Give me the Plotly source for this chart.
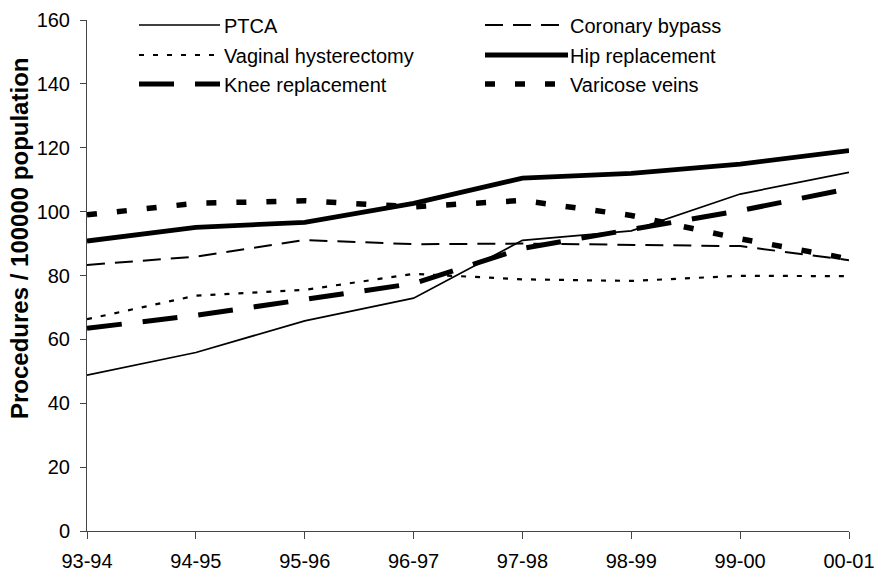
import plotly.graph_objects as go

categories = ["93-94", "94-95", "95-96", "96-97", "97-98", "98-99", "99-00", "00-01"]
series_names = ["PTCA", "Coronary bypass", "Vaginal hysterectomy",
                "Hip replacement", "Knee replacement", "Varicose veins"]
ptca = [48.8, 55.9, 65.8, 72.9, 91.0, 94.0, 105.5, 112.3]
coronary = [83.3, 85.9, 91.1, 89.8, 90.0, 89.5, 89.2, 84.8]
vaginal = [66.3, 73.7, 75.5, 80.5, 78.8, 78.3, 79.9, 79.8]
hip = [90.8, 95.1, 96.6, 102.6, 110.5, 112.0, 114.9, 119.1]
knee = [63.5, 67.5, 72.5, 77.5, 88.5, 94.5, 100.3, 107.2]
varicose = [99.0, 102.6, 103.4, 101.5, 103.5, 98.8, 91.5, 85.2]
y_ticks = [0, 20, 40, 60, 80, 100, 120, 140, 160]

values = [ptca, coronary, vaginal, hip, knee, varicose]
styles = [
    dict(width=1.7, dash="solid"),
    dict(width=2, dash="18px,10px"),
    dict(width=2.2, dash="5px,9px"),
    dict(width=4.8, dash="solid"),
    dict(width=5, dash="35px,21px"),
    dict(width=5.5, dash="10px,20px"),
]

W, H = 877, 575
# plot area in page pixels: x 87..849, y 20..531
L, R, T, B = 87, W - 849, 20, H - 531
pw, ph = W - L - R, H - T - B


def px(x):
    return (x - L) / pw


def py(y):
    return (H - B - y) / ph


fig = go.Figure()
for name, vals, st in zip(series_names, values, styles):
    fig.add_trace(go.Scatter(
        x=categories, y=vals, mode="lines", name=name,
        line=dict(color="black", width=st["width"], dash=st["dash"]),
        showlegend=False,
    ))

# manual legend (2 columns x 3 rows)
key_x = [(139, 220), (485, 568)]
text_x = [222, 568]
row_y = [25, 55, 84]
shapes = []
annotations = []
for i, (name, st) in enumerate(zip(series_names, styles)):
    col = i % 2
    row = i // 2
    x0, x1 = key_x[col]
    shapes.append(dict(
        type="line", xref="paper", yref="paper",
        x0=px(x0), x1=px(x1), y0=py(row_y[row]), y1=py(row_y[row]),
        line=dict(color="black", width=st["width"], dash=st["dash"]),
    ))
    annotations.append(dict(
        text=name, xref="paper", yref="paper",
        x=px(text_x[col]), y=py(row_y[row] + 1), xanchor="left", yanchor="middle",
        showarrow=False, font=dict(size=20, color="black"),
    ))

annotations.append(dict(
    text="<b>Procedures / 100000 population</b>", xref="paper", yref="paper",
    x=px(19), y=py(239), xanchor="center", yanchor="middle", textangle=-90,
    showarrow=False, font=dict(size=24, color="black"),
))

fig.update_layout(
    width=W, height=H,
    margin=dict(l=L, r=R, t=T, b=B, pad=0, autoexpand=False),
    paper_bgcolor="white", plot_bgcolor="white",
    font=dict(family="Liberation Sans, Arial, sans-serif", size=20, color="black"),
    shapes=shapes, annotations=annotations,
    hovermode=False,
    xaxis=dict(
        type="category", range=[0, len(categories) - 1],
        showline=True, linecolor="#444", linewidth=1,
        ticks="outside", ticklen=7, tickcolor="#444", tickwidth=1,
        showgrid=False, zeroline=False, automargin=False,
        tickfont=dict(size=20, color="black"),
        ticklabelstandoff=5,
    ),
    yaxis=dict(
        range=[0, 160], tickvals=y_ticks,
        showline=True, linecolor="#444", linewidth=1,
        ticks="outside", ticklen=6, tickcolor="#444", tickwidth=1,
        showgrid=False, zeroline=False, automargin=False,
        tickfont=dict(size=20, color="black"),
        ticklabelstandoff=6,
    ),
)

fig.write_html(
    "out.html",
    config={"displayModeBar": False, "staticPlot": True},
    post_script="document.body.style.margin='0';document.body.style.overflow='hidden';",
)
